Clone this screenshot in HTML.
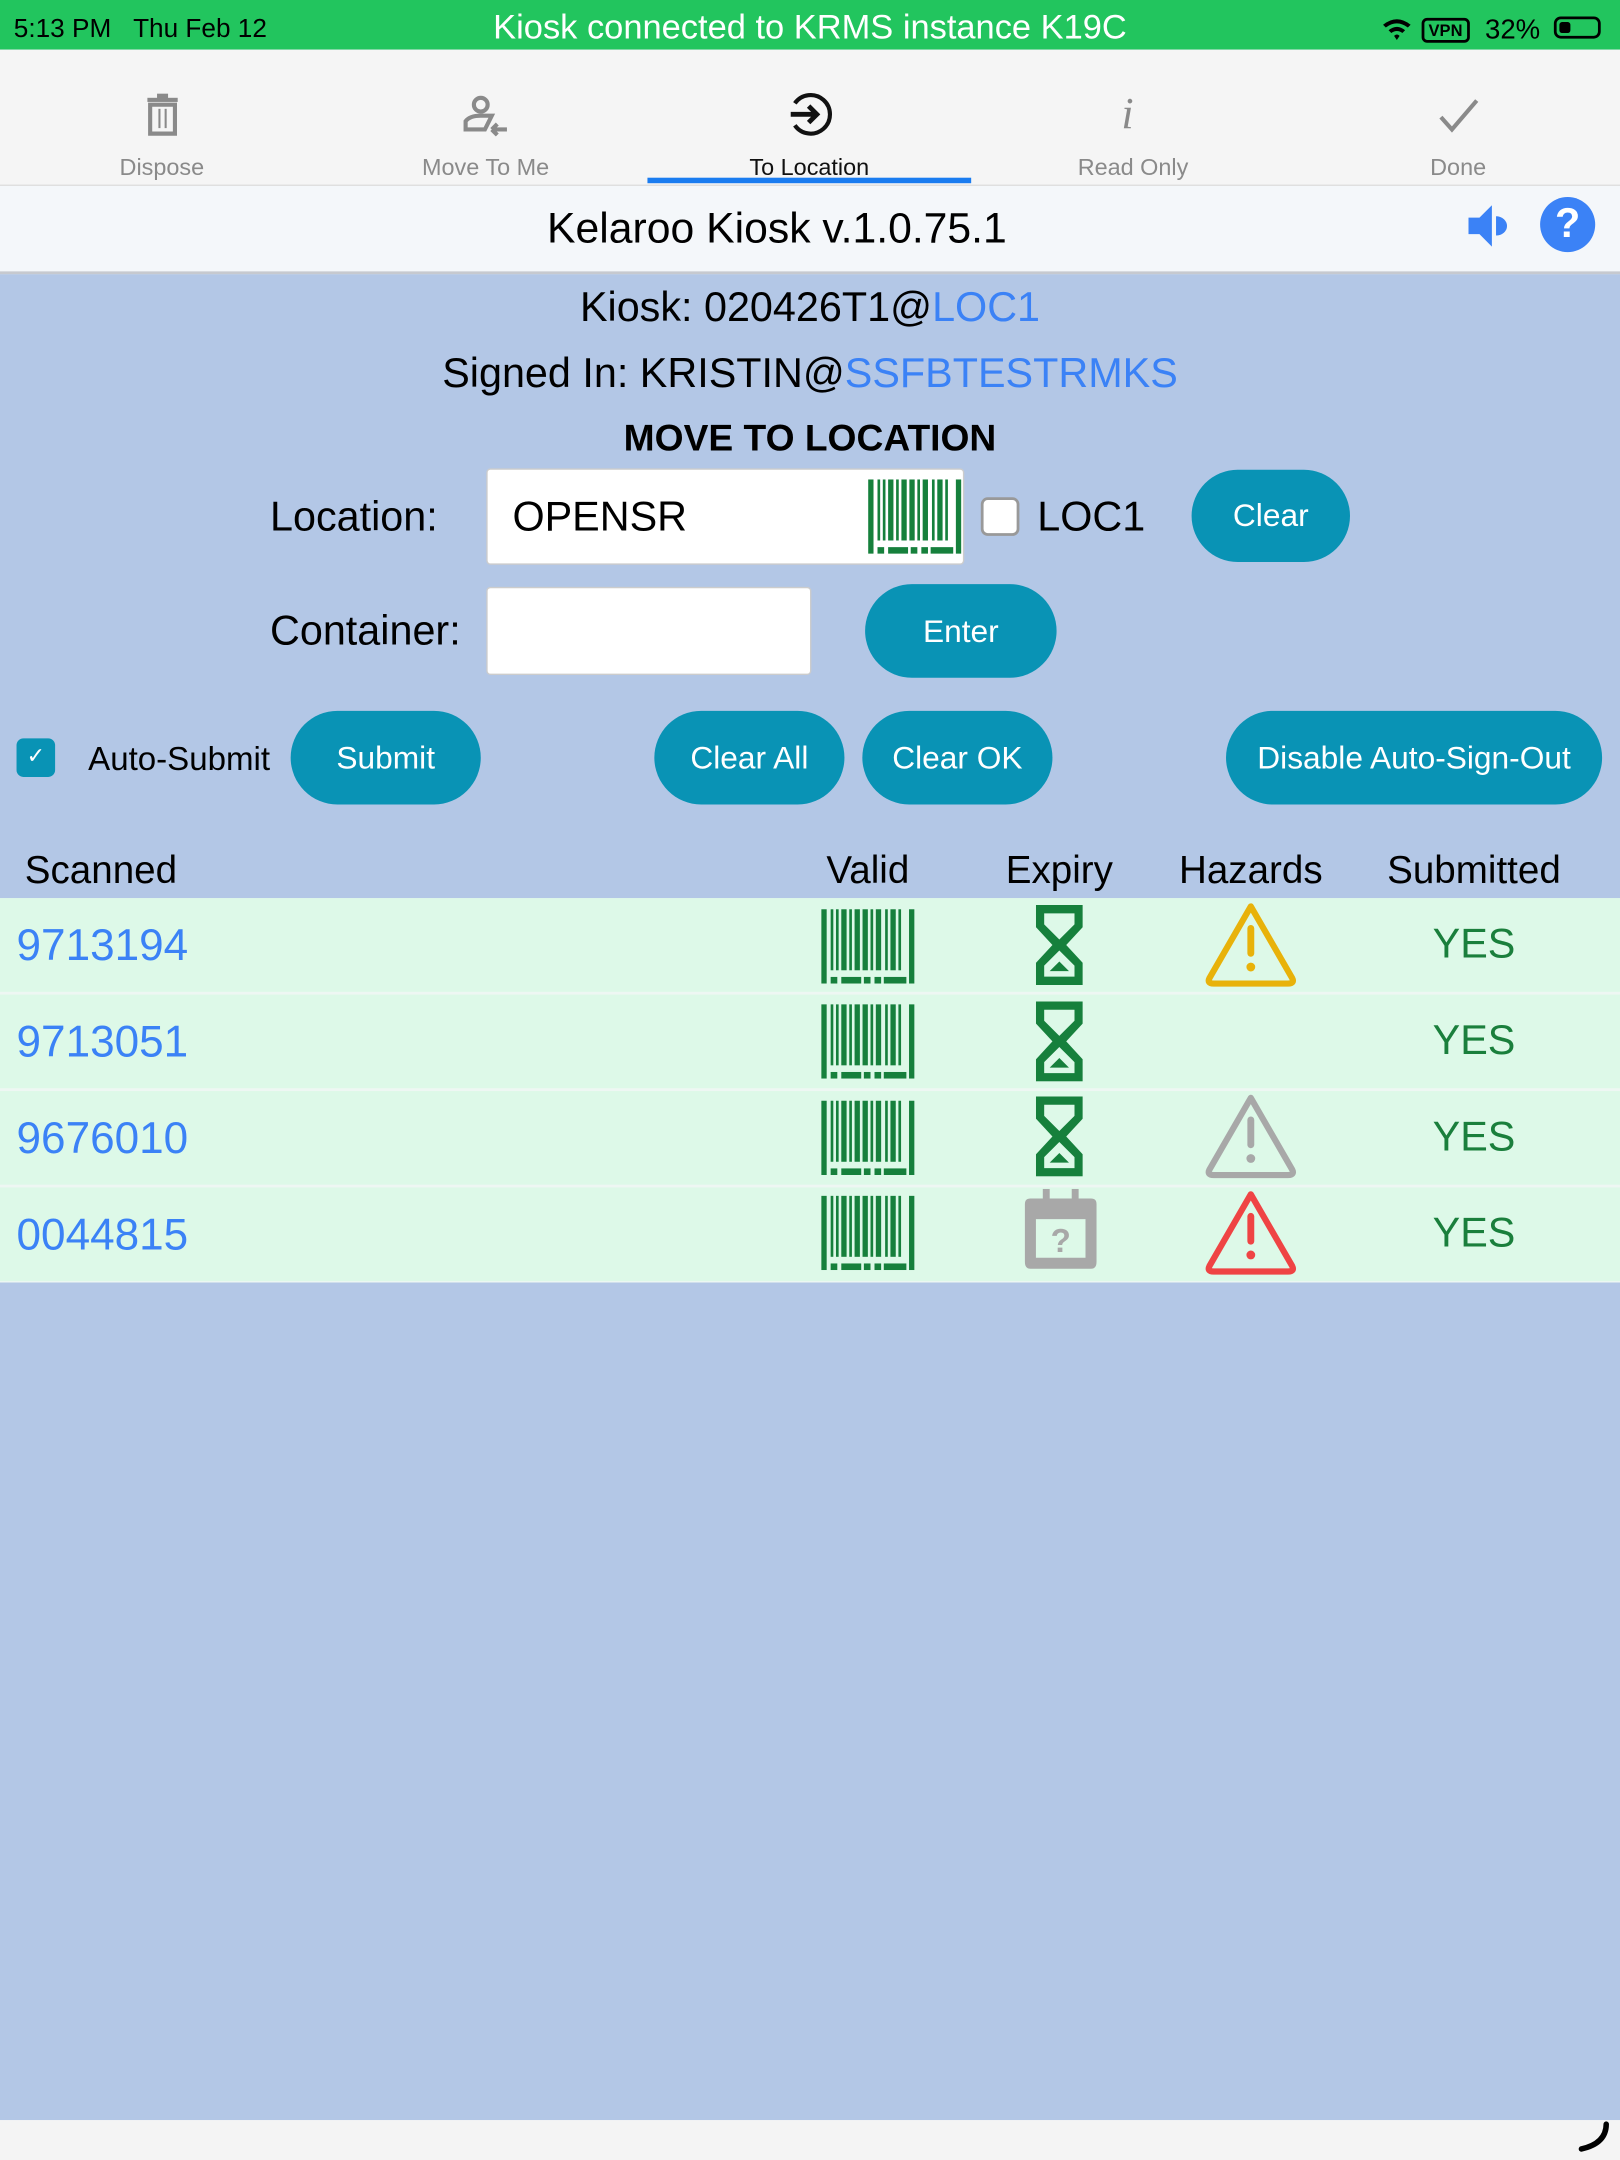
<!DOCTYPE html>
<html><head><meta charset="utf-8">
<style>
html,body{margin:0;padding:0;width:1620px;height:2160px;overflow:hidden;background:#b3c7e6;}
#w{position:absolute;left:0;top:0;width:1176px;height:1568px;transform:scale(1.37755);transform-origin:0 0;font-family:"Liberation Sans",sans-serif;background:#b3c7e6;}
.a{position:absolute;}
.t{position:absolute;white-space:nowrap;}
.c{text-align:center;}
.btn{position:absolute;background:#0993b5;color:#fff;border-radius:34px;font-size:23px;display:flex;align-items:center;justify-content:center;}
.row{position:absolute;left:0;width:1176px;height:68px;background:#ddf9e8;}
.num{position:absolute;left:12px;top:0;line-height:68px;font-size:32px;color:#3b82f6;}
.yes{position:absolute;left:1000px;width:140px;text-align:center;line-height:68px;font-size:30px;color:#1a7f3c;}
.tab{position:absolute;top:112px;width:235px;text-align:center;font-size:17px;color:#8a8a8a;}
</style></head><body>
<svg width="0" height="0" style="position:absolute">
<defs>
<g id="bc" fill="#16803c">
<rect x="0" y="0" width="4" height="56"/>
<rect x="7" y="0" width="2" height="46"/><rect x="11" y="0" width="2" height="46"/><rect x="15" y="0" width="4" height="46"/>
<rect x="21" y="0" width="2" height="46"/><rect x="25" y="0" width="4" height="46"/><rect x="31" y="0" width="4" height="46"/>
<rect x="37" y="0" width="2" height="46"/><rect x="41" y="0" width="4" height="46"/><rect x="48" y="0" width="2" height="46"/>
<rect x="52" y="0" width="4" height="46"/><rect x="58" y="0" width="2" height="46"/>
<rect x="66" y="0" width="4" height="56"/>
<rect x="7" y="51" width="5" height="5"/><rect x="15" y="51" width="15" height="5"/><rect x="32" y="51" width="5" height="5"/><rect x="40" y="51" width="5" height="5"/><rect x="47" y="51" width="17" height="5"/>
</g>
<g id="hg" fill="#16803c">
<path d="M0 0H34V16L22 29L34 42V58H0V42L12 29L0 16Z M6 6V14L17 25L28 14V6Z M17 33L6 44V52H28V44Z" fill-rule="evenodd"/>
<path d="M10 48L17 41L24 48Z"/>
</g>
<g id="tri">
<path d="M34 4L4 56Q2 60 7 60H61Q66 60 64 56Z" fill="none" stroke-width="4.5" stroke-linejoin="round"/>
<line x1="34" y1="20" x2="34" y2="38" stroke-width="5" stroke-linecap="round"/>
<circle cx="34" cy="48" r="3.2" stroke="none"/>
</g>
</defs>
</svg>
<div id="w">
<!-- status bar -->
<div class="a" style="left:0;top:0;width:1176px;height:36px;background:#22c55e;"></div>
<div class="t" style="left:10px;top:11px;font-size:19px;color:#000;">5:13 PM&nbsp;&nbsp;&nbsp;Thu Feb 12</div>
<div class="t c" style="left:0;width:1176px;top:6px;font-size:25px;color:#fff;">Kiosk connected to KRMS instance K19C</div>
<svg class="a" style="left:1003px;top:12px" width="22" height="18" viewBox="0 0 22 18"><path d="M1 6Q11 -2 21 6L19 8Q11 2 3 8Z M5 10Q11 5 17 10L15 12Q11 9 7 12Z M9 14Q11 12 13 14L11 17Z" fill="#000"/></svg>
<div class="t" style="left:1032px;top:13px;font-size:12px;border:2px solid #000;border-radius:4px;padding:0 3px;line-height:14px;font-weight:bold;">VPN</div>
<div class="t" style="left:1078px;top:11px;font-size:20px;">32%</div>
<div class="a" style="left:1128px;top:12px;width:34px;height:16px;border:2px solid #000;border-radius:5px;box-sizing:border-box;"><div style="margin:2px;width:8px;height:8px;background:#000;border-radius:2px;"></div></div>
<!-- tab bar -->
<div class="a" style="left:0;top:36px;width:1176px;height:98px;background:#f5f5f5;border-bottom:1px solid #ddd;"></div>
<svg class="a" style="left:105px;top:67px" width="26" height="32" viewBox="0 0 26 32"><rect x="2" y="4" width="22" height="3" fill="#8a8a8a"/><rect x="9" y="1" width="8" height="4" fill="#8a8a8a"/><path d="M4 9H22V30H4Z" fill="none" stroke="#8a8a8a" stroke-width="3"/><rect x="10" y="12" width="1.5" height="14" fill="#8a8a8a"/><rect x="14.5" y="12" width="1.5" height="14" fill="#8a8a8a"/></svg>
<svg class="a" style="left:335px;top:69px" width="36" height="30" viewBox="0 0 36 30"><circle cx="14" cy="7" r="5" fill="none" stroke="#8a8a8a" stroke-width="3"/><path d="M3 25V19Q6 15 14 15H22L17 25Z" fill="none" stroke="#8a8a8a" stroke-width="3"/><path d="M22 25H33M22 25L26 21M22 25L26 29" stroke="#8a8a8a" stroke-width="3" fill="none"/></svg>
<svg class="a" style="left:571px;top:66px" width="34" height="34" viewBox="0 0 34 34"><path d="M6 9A14 14 0 1 1 6 25" fill="none" stroke="#111" stroke-width="3"/><path d="M3 17H22M16 11L22 17L16 23" fill="none" stroke="#111" stroke-width="3.5"/></svg>
<div class="t" style="left:814px;top:64px;font-size:32px;color:#8a8a8a;font-style:italic;font-family:'Liberation Serif',serif;">i</div>
<svg class="a" style="left:1044px;top:70px" width="30" height="28" viewBox="0 0 30 28"><path d="M2 15L10 24L28 3" fill="none" stroke="#8a8a8a" stroke-width="3"/></svg>
<div class="tab" style="left:0">Dispose</div>
<div class="tab" style="left:235px">Move To Me</div>
<div class="tab" style="left:470px;color:#111;">To Location</div>
<div class="tab" style="left:705px">Read Only</div>
<div class="tab" style="left:941px">Done</div>
<div class="a" style="left:470px;top:129px;width:235px;height:4px;background:#1a7cf0;"></div>
<!-- title -->
<div class="a" style="left:0;top:135px;width:1176px;height:62px;background:#f4f7fa;border-bottom:2px solid #c6c9cf;"></div>
<div class="t c" style="left:0;width:1128px;top:148px;font-size:31px;color:#000;">Kelaroo Kiosk v.1.0.75.1</div>
<svg class="a" style="left:1066px;top:149px" width="28" height="30" viewBox="0 0 28 30"><path d="M0 9H8L17 0V30L8 21H0Z" fill="#3b82f6"/><path d="M20 8A8 7 0 0 1 20 22Z" fill="#3b82f6"/></svg>
<div class="a" style="left:1118px;top:143px;width:40px;height:40px;border-radius:50%;background:#3b82f6;color:#fff;font-size:30px;font-weight:bold;text-align:center;line-height:40px;">?</div>
<!-- info -->
<div class="t c" style="left:0;width:1176px;top:207px;font-size:30px;">Kiosk: 020426T1@<span style="color:#3b82f6">LOC1</span></div>
<div class="t c" style="left:0;width:1176px;top:255px;font-size:30px;">Signed In: KRISTIN@<span style="color:#3b82f6">SSFBTESTRMKS</span></div>
<div class="t c" style="left:0;width:1176px;top:303px;font-size:27px;font-weight:bold;">MOVE TO LOCATION</div>
<div class="t" style="left:196px;top:359px;font-size:30px;">Location:</div>
<div class="a" style="left:353px;top:340px;width:347px;height:70px;background:#fff;border:1px solid #ccc;border-radius:3px;box-sizing:border-box;"></div>
<div class="t" style="left:372px;top:359px;font-size:30px;">OPENSR</div>
<svg class="a" style="left:629px;top:348px" width="70" height="54" viewBox="0 0 70 56"><use href="#bc"/></svg>
<div class="a" style="left:712px;top:361px;width:28px;height:28px;background:#fff;border:2px solid #999;border-radius:5px;box-sizing:border-box;"></div>
<div class="t" style="left:753px;top:359px;font-size:30px;">LOC1</div>
<div class="btn" style="left:865px;top:341px;width:115px;height:67px;">Clear</div>
<div class="t" style="left:196px;top:442px;font-size:30px;">Container:</div>
<div class="a" style="left:353px;top:426px;width:236px;height:64px;background:#fff;border:1px solid #ccc;border-radius:3px;box-sizing:border-box;"></div>
<div class="btn" style="left:628px;top:424px;width:139px;height:68px;">Enter</div>
<div class="a" style="left:12px;top:536px;width:28px;height:28px;background:#0993b5;border-radius:5px;color:#fff;font-size:16px;text-align:center;line-height:28px;">✓</div>
<div class="t" style="left:64px;top:538px;font-size:24px;">Auto-Submit</div>
<div class="btn" style="left:211px;top:516px;width:138px;height:68px;">Submit</div>
<div class="btn" style="left:475px;top:516px;width:138px;height:68px;">Clear All</div>
<div class="btn" style="left:626px;top:516px;width:138px;height:68px;">Clear OK</div>
<div class="btn" style="left:890px;top:516px;width:273px;height:68px;">Disable Auto-Sign-Out</div>
<!-- table header -->
<div class="t" style="left:18px;top:616px;font-size:28px;">Scanned</div>
<div class="t c" style="left:560px;width:140px;top:616px;font-size:28px;">Valid</div>
<div class="t c" style="left:699px;width:140px;top:616px;font-size:28px;">Expiry</div>
<div class="t c" style="left:838px;width:140px;top:616px;font-size:28px;">Hazards</div>
<div class="t c" style="left:1000px;width:140px;top:616px;font-size:28px;">Submitted</div>
<!-- rows -->
<div class="a" style="left:0;top:652px;width:1176px;height:279px;background:#eef7f3;"></div>
<div class="row" style="top:652px"><div class="num">9713194</div><div class="yes">YES</div></div>
<div class="row" style="top:722px"><div class="num">9713051</div><div class="yes">YES</div></div>
<div class="row" style="top:792px"><div class="num">9676010</div><div class="yes">YES</div></div>
<div class="row" style="top:862px"><div class="num">0044815</div><div class="yes">YES</div></div>
<svg class="a" style="left:595px;top:660px" width="70" height="54" viewBox="0 0 70 56"><use href="#bc"/></svg>
<svg class="a" style="left:595px;top:729px" width="70" height="54" viewBox="0 0 70 56"><use href="#bc"/></svg>
<svg class="a" style="left:595px;top:799px" width="70" height="54" viewBox="0 0 70 56"><use href="#bc"/></svg>
<svg class="a" style="left:595px;top:868px" width="70" height="54" viewBox="0 0 70 56"><use href="#bc"/></svg>
<svg class="a" style="left:752px;top:657px" width="34" height="58" viewBox="0 0 34 58"><use href="#hg"/></svg>
<svg class="a" style="left:752px;top:727px" width="34" height="58" viewBox="0 0 34 58"><use href="#hg"/></svg>
<svg class="a" style="left:752px;top:796px" width="34" height="58" viewBox="0 0 34 58"><use href="#hg"/></svg>
<svg class="a" style="left:743px;top:863px" width="54" height="60" viewBox="0 0 54 60"><rect x="14" y="0" width="5" height="10" fill="#a8a8a8"/><rect x="35" y="0" width="5" height="10" fill="#a8a8a8"/><path d="M5 7H49Q53 7 53 11V53Q53 58 49 58H5Q1 58 1 53V11Q1 7 5 7Z M9 22V50H45V22Z" fill="#a8a8a8" fill-rule="evenodd"/><text x="27" y="46" text-anchor="middle" font-family="Liberation Sans" font-weight="bold" font-size="24" fill="#a8a8a8">?</text></svg>
<svg class="a" style="left:874px;top:654px" width="68" height="64" viewBox="0 0 68 64"><use href="#tri" stroke="#e8b20a" fill="#e8b20a"/></svg>
<svg class="a" style="left:874px;top:793px" width="68" height="64" viewBox="0 0 68 64"><use href="#tri" stroke="#a8a8a8" fill="#a8a8a8"/></svg>
<svg class="a" style="left:874px;top:863px" width="68" height="64" viewBox="0 0 68 64"><use href="#tri" stroke="#ef4444" fill="#ef4444"/></svg>
<!-- bottom -->
<div class="a" style="left:0;top:1539px;width:1176px;height:29px;background:#f4f4f4;"></div>
<svg class="a" style="left:1140px;top:1538px" width="30" height="30" viewBox="0 0 30 30"><path d="M26 4Q26 18 8 22" fill="none" stroke="#000" stroke-width="4" stroke-linecap="round"/></svg>
</div>
</body></html>
